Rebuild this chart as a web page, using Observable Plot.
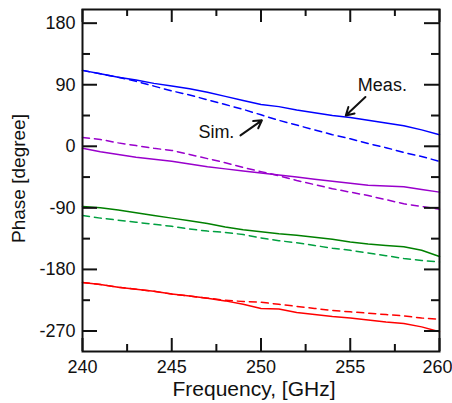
<!DOCTYPE html>
<html>
<head>
<meta charset="utf-8">
<script src="https://cdn.jsdelivr.net/npm/d3@7"></script>
<script src="https://cdn.jsdelivr.net/npm/@observablehq/plot@0.6"></script>
<style>
  html, body { margin: 0; padding: 0; background: #fff; }
  svg { overflow: visible; }
</style>
</head>
<body>
<div id="chart"></div>
<script>
// Frequency samples (GHz)
const freq = [240,241,242,243,244,245,246,247,248,249,250,251,252,253,254,255,256,257,258,259,260];

// Phase (degree) — measured (solid) and simulated (dashed)
const blueMeas   = [111,106,101,97,92,88,84,79,73,67,61,58,53,49,45,42,38,34,30,24,17];
const blueSim    = [111,106,101,95,88,81,75,68,61,54,46,38,31,24,17,11,4,-2,-9,-15,-22];
const purpleMeas = [-3,-8,-12,-16,-19,-22,-26,-30,-33,-36,-39,-42,-45,-48,-51,-54,-57,-58,-59,-63,-67];
const purpleSim  = [13,10,5,1,-3,-6,-12,-18,-24,-31,-37,-43,-50,-56,-62,-67,-72,-78,-84,-88,-92];
const greenMeas  = [-88,-90,-93,-97,-101,-105,-109,-113,-118,-122,-125,-128,-130,-133,-136,-140,-143,-145,-147,-152,-161];
const greenSim   = [-101,-105,-108,-111,-114,-117,-121,-124,-126,-129,-134,-138,-141,-145,-149,-152,-156,-160,-164,-167,-169];
const redMeas    = [-199,-202,-206,-209,-212,-216,-219,-222,-226,-231,-237,-238,-243,-246,-249,-251,-254,-257,-259,-264,-271];
const redSim     = [-199,-202,-206,-209,-212,-216,-219,-222,-225,-227,-228,-231,-234,-237,-240,-242,-244,-246,-248,-251,-253];

// Axis ticks
const xTickLabels = [240,245,250,255];
const xLastLabel = [260];
const xMajor = [240,245,250,255,260];
const xMinor = [242.5,247.5,252.5,257.5];
const yTickLabels = [-270,-180,-90,0,90,180];
const yMinor = [-225,-135,-45,45,135];

// Annotations
const annoText = [
  {label: "Meas.", f: 256.8, p: 90},
  {label: "Sim.",  f: 247.5, p: 20}
];
const annoArrows = [
  {f1: 255.85, p1: 72, f2: 254.75, p2: 45},
  {f1: 248.85, p1: 16, f2: 250.05, p2: 38}
];

const series = [
  {name: "blueMeas", vals: blueMeas, color: "#0000ff", dash: null},
  {name: "blueSim", vals: blueSim, color: "#0000ff", dash: "7,5"},
  {name: "purpleMeas", vals: purpleMeas, color: "#9900cc", dash: null},
  {name: "purpleSim", vals: purpleSim, color: "#9900cc", dash: "7,5"},
  {name: "greenMeas", vals: greenMeas, color: "#008000", dash: null},
  {name: "greenSim", vals: greenSim, color: "#00a040", dash: "7,5"},
  {name: "redMeas", vals: redMeas, color: "#ff0000", dash: null},
  {name: "redSim", vals: redSim, color: "#ff0000", dash: "7,5"}
];

const W = 452, H = 403;
const mL = 82, mR = 13, mT = 9, mB = 52;
const iw = W - mL - mR, ih = H - mT - mB;

const lineMarks = series.map(s =>
  Plot.line(freq.map((f, i) => ({f, p: s.vals[i]})), {
    x: "f", y: "p", stroke: s.color, strokeWidth: 1.5,
    strokeDasharray: s.dash
  })
);

const chart = Plot.plot({
  width: W, height: H,
  marginLeft: mL, marginRight: mR, marginTop: mT, marginBottom: mB,
  style: {fontFamily: "'Liberation Sans', Arial, sans-serif", fontSize: "18px", color: "#111", background: "#fff", overflow: "visible"},
  x: {domain: [240, 260]},
  y: {domain: [-300, 200]},
  marks: [
    ...lineMarks,
    // inward ticks: y
    Plot.tickY(yTickLabels, {y: d => d, insetRight: iw - 15, strokeWidth: 2, stroke: "#111"}),
    Plot.tickY(yTickLabels, {y: d => d, insetLeft: iw - 15, strokeWidth: 2, stroke: "#111"}),
    Plot.tickY(yMinor, {y: d => d, insetRight: iw - 8, strokeWidth: 2, stroke: "#111"}),
    Plot.tickY(yMinor, {y: d => d, insetLeft: iw - 8, strokeWidth: 2, stroke: "#111"}),
    // inward ticks: x
    Plot.tickX(xMajor, {x: d => d, insetTop: ih - 13, strokeWidth: 2, stroke: "#111"}),
    Plot.tickX(xMajor, {x: d => d, insetBottom: ih - 13, strokeWidth: 2, stroke: "#111"}),
    Plot.tickX(xMinor, {x: d => d, insetTop: ih - 7, strokeWidth: 2, stroke: "#111"}),
    Plot.tickX(xMinor, {x: d => d, insetBottom: ih - 7, strokeWidth: 2, stroke: "#111"}),
    Plot.frame({stroke: "#111", strokeWidth: 2}),
    Plot.axisY({ticks: yTickLabels, tickSize: 0, tickPadding: 7, label: null, fontSize: 18, tickFormat: d => String(d)}),
    Plot.axisX({ticks: xTickLabels, tickSize: 0, tickPadding: 9, label: null, fontSize: 18, tickFormat: d => String(d)}),
    Plot.axisX({ticks: xLastLabel, tickSize: 0, tickPadding: 9, label: null, fontSize: 18, dx: -2, tickFormat: d => String(d)}),
    Plot.text(["Phase [degree]"], {text: d => d, frameAnchor: "left", rotate: -90, dx: -64, dy: -2, fontSize: 19, textAnchor: "middle"}),
    Plot.text(["Frequency, [GHz]"], {text: d => d, frameAnchor: "bottom", dy: 44, dx: -7, fontSize: 21, textAnchor: "middle"}),
    Plot.text(annoText, {x: "f", y: "p", text: "label", fontSize: 18, fill: "#111"}),
    Plot.arrow(annoArrows, {x1: "f1", y1: "p1", x2: "f2", y2: "p2", stroke: "#111", strokeWidth: 2, headLength: 9})
  ]
});
document.getElementById("chart").appendChild(chart);
</script>
</body>
</html>
